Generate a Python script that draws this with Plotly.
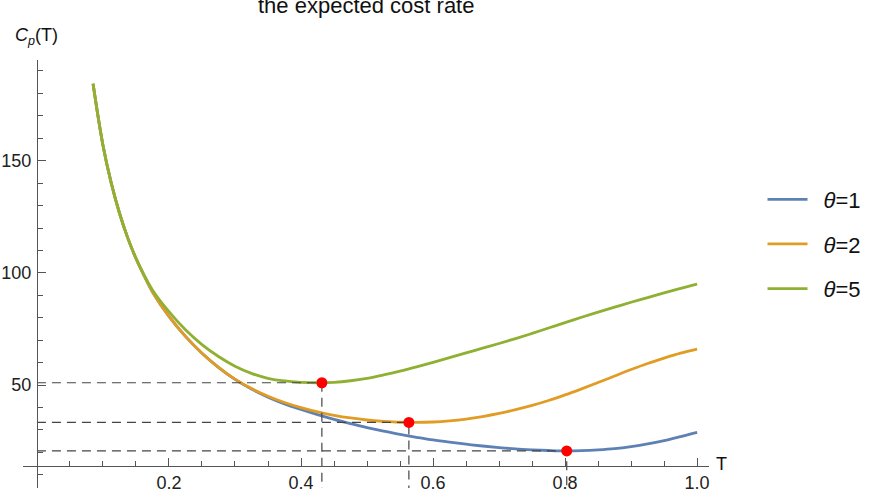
import plotly.graph_objects as go

# values
theta_labels = ['\u2002<i>θ</i>=1', '\u2002<i>θ</i>=2', '\u2002<i>θ</i>=5']

t_grid = [0.085, 0.1, 0.1125, 0.125, 0.1375, 0.15, 0.1625, 0.175, 0.2, 0.225, 0.25, 0.275,
          0.3, 0.325, 0.35, 0.375, 0.4, 0.425, 0.45, 0.475, 0.5, 0.525, 0.55, 0.575,
          0.6, 0.625, 0.65, 0.675, 0.7, 0.725, 0.75, 0.775, 0.8, 0.825, 0.85, 0.875,
          0.9, 0.925, 0.95, 0.975, 1.0]

c_theta1 = [184.3, 156.9, 140.1, 126.7, 115.6, 106.4, 98.6, 91.5, 80.6, 71.7, 64.2, 57.9,
            52.5, 48.2, 44.6, 41.6, 39.1, 36.8, 34.7, 32.8, 31.0, 29.4, 28.0, 26.7,
            25.5, 24.5, 23.6, 22.8, 22.1, 21.5, 21.1, 20.8, 20.6, 20.7, 21.05, 21.6,
            22.5, 23.7, 25.2, 27.0, 28.9]

c_theta2 = [184.3, 156.9, 140.1, 126.7, 115.6, 106.4, 98.6, 91.5, 80.6, 71.7, 64.2, 57.9,
            52.6, 48.4, 45.0, 42.2, 39.9, 38.0, 36.5, 35.3, 34.4, 33.8, 33.4, 33.3,
            33.5, 34.0, 34.8, 35.9, 37.3, 39.0, 40.9, 43.1, 45.6, 48.3, 51.1, 54.0,
            56.9, 59.6, 62.0, 64.2, 66.0]

c_theta5 = [184.3, 156.9, 140.1, 126.7, 115.6, 106.6, 99.0, 92.4, 82.7, 74.6, 68.0, 62.7,
            58.4, 55.2, 53.0, 51.8, 51.2, 51.0, 51.2, 51.9, 53.0, 54.5, 56.2, 58.1,
            60.1, 62.2, 64.3, 66.4, 68.5, 70.7, 73.0, 75.4, 77.8, 80.2, 82.5, 84.7,
            86.9, 89.0, 91.1, 93.1, 95.0]

# optimum points (red dots)
t_opt = [0.8025, 0.5634, 0.4316]
c_opt = [20.6, 33.3, 51.0]

colors = ['#5E81B5', '#E19C24', '#8FB032']

x_ticks = [0.2, 0.4, 0.6, 0.8, 1.0]
x_ticklabels = ['0.2', '0.4', '0.6', '0.8', '1.0']
x_minor = [0.05 * i for i in range(1, 21)]
y_ticks = [50, 100, 150]
y_minor = [10 * i for i in range(1, 20)]

x_range = [-0.0211, 1.018]
y_range = [4.08, 194.9]
x_axis_at = 13.9  # value where the T axis crosses

font = 'Liberation Sans, Arial, sans-serif'

fig = go.Figure()

curves = [c_theta1, c_theta2, c_theta5]
for i, c in enumerate(curves):
    fig.add_trace(go.Scatter(
        x=t_grid, y=c, mode='lines', name=theta_labels[i],
        legendgroup=str(i),
        line=dict(color=colors[i], width=2.8, shape='spline', smoothing=1.0)
    ))

# dashed guide lines to the axes
for i in range(len(t_opt)):
    fig.add_trace(go.Scatter(
        x=[0, t_opt[i], t_opt[i]],
        y=[c_opt[i], c_opt[i], y_range[0]],
        mode='lines', showlegend=False, hoverinfo='skip',
        line=dict(color='#444444', width=1.2, dash='9px,6px')
    ))

fig.add_trace(go.Scatter(
    x=t_opt, y=c_opt, mode='markers', showlegend=False,
    marker=dict(color='#FF0000', size=11)
))

fig.update_layout(
    width=872, height=493,
    margin=dict(l=23, r=158, t=60, b=5),
    plot_bgcolor='white', paper_bgcolor='white',
    font=dict(family=font, color='#222222'),
    xaxis=dict(
        range=x_range, anchor='free', automargin=False,
        position=(x_axis_at - y_range[0]) / (y_range[1] - y_range[0]),
        showgrid=False, zeroline=False, showline=True,
        linecolor='#555555', linewidth=1,
        tickmode='array', tickvals=x_ticks, ticktext=x_ticklabels,
        ticks='inside', ticklen=8, tickcolor='#555555', ticklabelstandoff=0,
        tickfont=dict(size=18, family=font, color='#222222'),
        minor=dict(tickvals=x_minor, ticks='inside', ticklen=5, tickcolor='#555555'),
    ),
    yaxis=dict(
        range=y_range, anchor='free', automargin=False,
        position=(0 - x_range[0]) / (x_range[1] - x_range[0]),
        showgrid=False, zeroline=False, showline=True,
        linecolor='#555555', linewidth=1,
        tickmode='array', tickvals=y_ticks,
        ticks='inside', ticklen=8, tickcolor='#555555', ticklabelstandoff=2,
        tickfont=dict(size=18, family=font, color='#222222'),
        minor=dict(tickvals=y_minor, ticks='inside', ticklen=5, tickcolor='#555555'),
    ),
    legend=dict(
        x=1.078, y=0.57, xanchor='left', yanchor='middle',
        font=dict(size=22, family=font, color='#111111'),
        tracegroupgap=13, itemwidth=40, bgcolor='rgba(0,0,0,0)'
    ),
    annotations=[
        dict(text='the expected cost rate', xref='paper', yref='paper',
             x=0.5, y=1.127, xanchor='center', yanchor='middle', showarrow=False,
             font=dict(size=22, family=font, color='#111111')),
        dict(text='<i>C</i><sub><i>p</i></sub>(T)', xref='paper', yref='paper',
             x=0.0203, y=1.054, xanchor='center', yanchor='middle', showarrow=False,
             font=dict(size=18, family=font, color='#111111')),
        dict(text='T', xref='paper', yref='paper',
             x=1.007, y=0.056, xanchor='left', yanchor='middle', showarrow=False,
             font=dict(size=18, family=font, color='#111111')),
    ],
)

# drop the default 8px page margin so the figure sits at the window corner
fig.write_html("out.html", config={'displayModeBar': False},
               post_script="document.body.style.margin='0px';")
